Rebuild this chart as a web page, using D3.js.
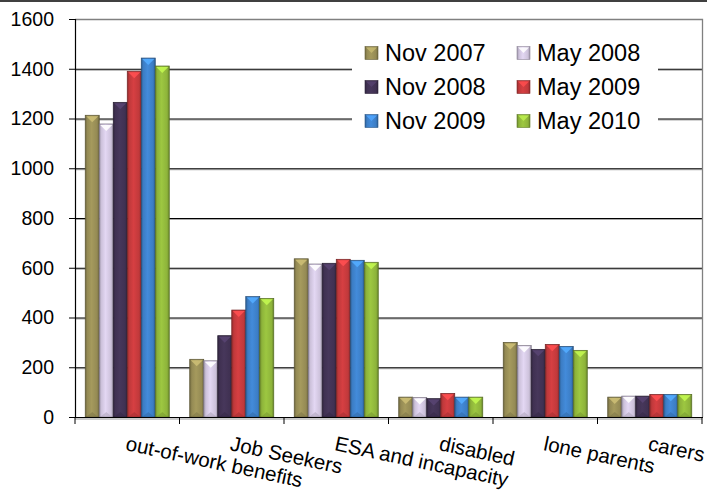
<!DOCTYPE html>
<html>
<head>
<meta charset="utf-8">
<script src="https://cdn.jsdelivr.net/npm/d3@7"></script>
<style>
  body { margin: 0; background: #fff; }
  svg { display: block; font-family: "Liberation Sans", Arial, sans-serif; }
</style>
</head>
<body>
<svg width="707" height="497"></svg>
<script>
// Chart data
const categories = ['out-of-work benefits', 'Job Seekers', 'ESA and incapacity', 'disabled', 'lone parents', 'carers'];
const seriesNames = ['Nov 2007', 'May 2008', 'Nov 2008', 'May 2009', 'Nov 2009', 'May 2010'];
const nov2007 = [1213, 232, 636, 80, 300, 80];
const may2008 = [1178, 226, 615, 78, 287, 84];
const nov2008 = [1265, 327, 618, 74, 272, 84];
const may2009 = [1390, 430, 634, 95, 292, 91];
const nov2009 = [1443, 484, 630, 80, 284, 91];
const may2010 = [1411, 477, 622, 80, 268, 91];
const yTicks = [0, 200, 400, 600, 800, 1000, 1200, 1400, 1600];

const seriesValues = [nov2007, may2008, nov2008, may2009, nov2009, may2010];
const colors = ['#948a54', '#ccc1da', '#403152', '#c0393b', '#3c7dc4', '#8db33a'];

let svg = d3.select('svg');

// Plot area bounds
let plotL = 75, plotR = 702, plotT = 19, plotB = 417;

let y = d3.scaleLinear().domain([0, 1600]).range([plotB, plotT]);
let x0 = d3.scaleBand().domain(categories).range([plotL, plotR]);
let x1 = d3.scaleBand().domain(seriesNames).range([0, x0.bandwidth()]).paddingOuter(0.73);

// Gradients for the bevelled bars
let defs = svg.append('defs');
colors.forEach((c, i) =>
{
	let g = defs.append('linearGradient').attr('id', 'grad' + i)
		.attr('x1', 0).attr('x2', 1).attr('y1', 0).attr('y2', 0);
	let base = d3.color(c);
	g.append('stop').attr('offset', '0%').attr('stop-color', base.darker(0.8));
	g.append('stop').attr('offset', '15%').attr('stop-color', base);
	g.append('stop').attr('offset', '45%').attr('stop-color', base.brighter(0.3));
	g.append('stop').attr('offset', '85%').attr('stop-color', base);
	g.append('stop').attr('offset', '100%').attr('stop-color', base.darker(0.9));
});

// Top border of the image
svg.append('line').attr('x1', 0).attr('x2', 707).attr('y1', 1).attr('y2', 1)
	.attr('stroke', '#000').attr('stroke-width', 1.5);

// Gridlines
yTicks.filter(d => d > 0 && d < 1600).forEach(d =>
{
	svg.append('line').attr('x1', plotL).attr('x2', plotR)
		.attr('y1', y(d) + 1.5).attr('y2', y(d) + 1.5)
		.attr('stroke', '#aaa').attr('stroke-width', 1);
	svg.append('line').attr('x1', plotL).attr('x2', plotR)
		.attr('y1', y(d) + 0.5).attr('y2', y(d) + 0.5)
		.attr('stroke', '#000').attr('stroke-width', 1.1);
});

// Plot area border (top and right)
svg.append('path')
	.attr('d', `M${plotL},${plotT + 0.5}H${plotR + 0.5}V${plotB}`)
	.attr('fill', 'none').attr('stroke', '#808080').attr('stroke-width', 1.3);

// Bars
let groups = svg.append('g').selectAll('g')
	.data(categories)
	.join('g')
	.attr('transform', d => `translate(${x0(d)},0)`);

groups.each(function (cat, ci)
{
	let g = d3.select(this);
	seriesNames.forEach((s, si) =>
	{
		let v = seriesValues[si][ci];
		let bx = x1(s), bw = x1.bandwidth(), by = y(v), bh = plotB - y(v);
		let base = d3.color(colors[si]);
		g.append('rect')
			.attr('x', bx).attr('y', by).attr('width', bw).attr('height', bh)
			.attr('fill', `url(#grad${si})`)
			.attr('stroke', base.darker(1.4)).attr('stroke-width', 0.7);
		// bevel triangle at the top
		g.append('path')
			.attr('d', `M${bx + 1},${by + 1}H${bx + bw - 1}L${bx + bw / 2},${by + 7}Z`)
			.attr('fill', base.brighter(0.9)).attr('opacity', 0.9);
		// bevel at the bottom
		g.append('path')
			.attr('d', `M${bx + 1},${plotB}H${bx + bw - 1}L${bx + bw / 2},${plotB - 5}Z`)
			.attr('fill', base.darker(0.4)).attr('opacity', 0.6);
	});
});

// Axes
let yAxis = svg.append('g')
	.attr('transform', `translate(${plotL},0)`)
	.call(d3.axisLeft(y).tickValues(yTicks).tickFormat(d3.format('d')).tickSize(6).tickPadding(15));
yAxis.select('.domain').attr('stroke', '#000').attr('stroke-width', 1.2);
yAxis.selectAll('.tick line').attr('stroke', '#000');
yAxis.selectAll('.tick text')
	.attr('font-size', '19.5px').attr('fill', '#000')
	.attr('font-family', '"Liberation Sans", Arial, sans-serif');

// shadow under x axis
svg.append('line').attr('x1', plotL).attr('x2', plotR)
	.attr('y1', plotB + 2).attr('y2', plotB + 2)
	.attr('stroke', '#ccc').attr('stroke-width', 2);

let xAxis = svg.append('g')
	.attr('transform', `translate(0,${plotB})`);
xAxis.append('line').attr('x1', plotL).attr('x2', plotR + 1).attr('y1', 0.5).attr('y2', 0.5)
	.attr('stroke', '#000').attr('stroke-width', 1.2);
let bounds = categories.map(c => x0(c)).concat([plotR]);
xAxis.selectAll('line.tk')
	.data(bounds)
	.join('line')
	.attr('class', 'tk')
	.attr('x1', d => d).attr('x2', d => d)
	.attr('y1', 0).attr('y2', 7)
	.attr('stroke', '#000');

xAxis.selectAll('text')
	.data(categories)
	.join('text')
	.attr('transform', d => `translate(${x0(d) + x0.bandwidth() / 2 - 2.5},33) rotate(12)`)
	.attr('font-size', '20.5px')
	.attr('text-anchor', 'start')
	.attr('fill', '#000')
	.text(d => d);

// Legend
let legend = svg.append('g');
legend.append('rect')
	.attr('x', 352).attr('y', 36).attr('width', 306).attr('height', 102)
	.attr('fill', '#fff');

seriesNames.forEach((s, i) =>
{
	let col = i % 2, row = Math.floor(i / 2);
	let lx = 365 + col * 152;
	let ly = 53 + row * 34;
	let base = d3.color(colors[i]);
	legend.append('rect')
		.attr('x', lx).attr('y', ly - 6.5).attr('width', 13).attr('height', 13)
		.attr('fill', `url(#grad${i})`)
		.attr('stroke', base.darker(1)).attr('stroke-width', 0.6);
	legend.append('path')
		.attr('d', `M${lx + 1},${ly - 5.5}H${lx + 12}L${lx + 6.5},${ly}Z`)
		.attr('fill', base.brighter(0.8)).attr('opacity', 0.85);
	legend.append('text')
		.attr('x', lx + 20).attr('y', ly + 8)
		.attr('font-size', '23.5px')
		.attr('fill', '#000')
		.text(s);
});
</script>
</body>
</html>
